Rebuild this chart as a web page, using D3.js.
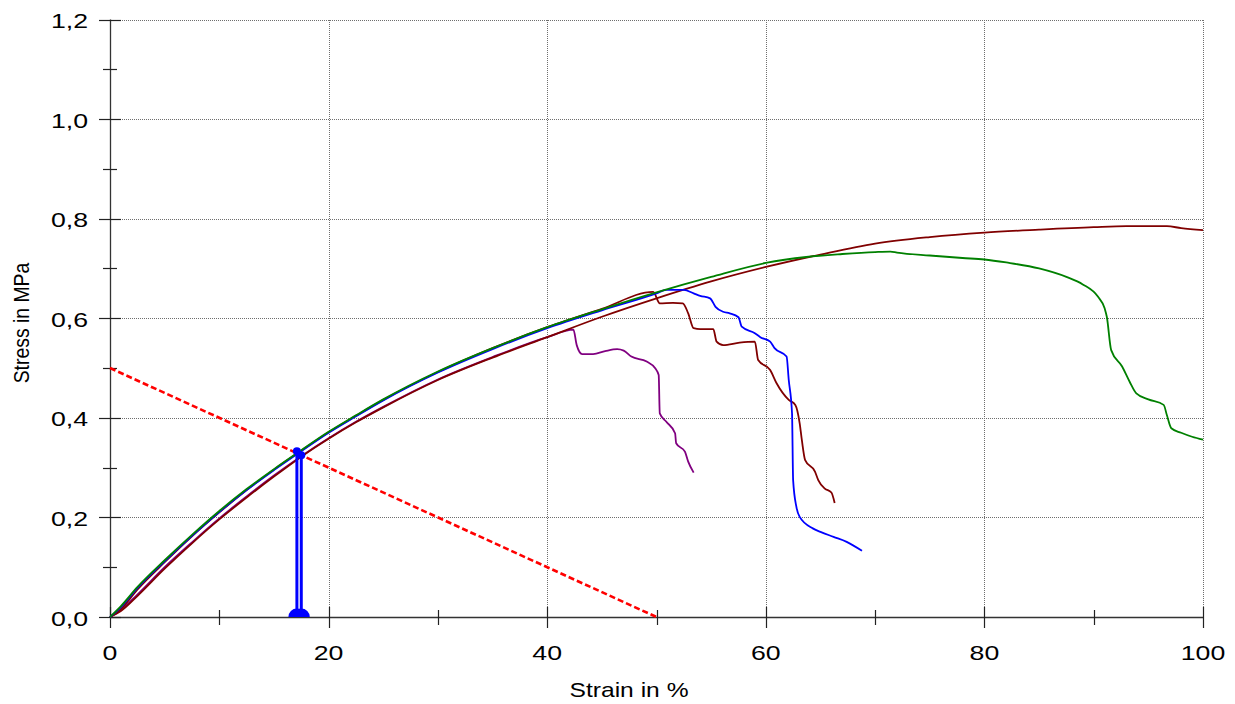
<!DOCTYPE html>
<html>
<head>
<meta charset="utf-8">
<script src="https://cdn.jsdelivr.net/npm/d3@7"></script>
<style>
  html, body { margin: 0; padding: 0; background: #fff; }
  svg { display: block; }
  text { font-family: "Liberation Sans", Arial, sans-serif; fill: #000; }
</style>
</head>
<body>
<svg id="chart" width="1235" height="704"></svg>
<script>
// ---------------- data ----------------
const xTickValues = [0, 20, 40, 60, 80, 100];
const xTickLabels = ["0", "20", "40", "60", "80", "100"];
const xMinorTicks = [10, 30, 50, 70, 90];
const yTickValues = [0, 0.2, 0.4, 0.6, 0.8, 1.0, 1.2];
const yTickLabels = ["0,0", "0,2", "0,4", "0,6", "0,8", "1,0", "1,2"];
const yMinorTicks = [0.1, 0.3, 0.5, 0.7, 0.9, 1.1];

const xTitle = "Strain in %";
const yTitle = "Stress in MPa";

// green specimen
const greenStrain = [0,1,2.5,5,7.5,10,12.5,15,17.5,20,22.5,25,30,35,40,45,50,55,60,63.7,67,70,71.4,72,75,78,80,82,85,87.5,89,90.4,91,91.2,91.6,92.6,93.3,93.9,95,96.4,96.7,97.1,98,99,100];
const greenStress = [0,0.022,0.06,0.114,0.165,0.213,0.257,0.297,0.335,0.372,0.405,0.437,0.493,0.54,0.582,0.618,0.652,0.683,0.711,0.723,0.729,0.733,0.734,0.732,0.726,0.721,0.718,0.712,0.70,0.683,0.668,0.643,0.62,0.603,0.536,0.503,0.472,0.449,0.437,0.426,0.405,0.379,0.37,0.362,0.356];

// long maroon specimen
const maroonStrain = [0,1,2.5,5,7.5,10,12.5,15,17.5,20,22.5,25,30,35,40,45,50,55,60,65,70,75,80,85,90,93,96.7,98,100];
const maroonStress = [0,0.012,0.042,0.097,0.148,0.196,0.24,0.282,0.322,0.358,0.391,0.421,0.476,0.521,0.562,0.603,0.64,0.674,0.703,0.728,0.75,0.763,0.772,0.778,0.783,0.785,0.785,0.781,0.777];

// purple specimen
const purpleStrain = [0,1,2.5,5,7.5,10,12.5,15,17.5,20,22.5,25,30,35,40,42.4,42.7,43.2,44.2,45.3,46.4,47,47.7,49.1,49.9,50.2,50.3,50.9,51.7,51.8,52.6,52.9,53.4];
const purpleStress = [0,0.014,0.045,0.1,0.15,0.198,0.242,0.284,0.323,0.359,0.392,0.422,0.477,0.522,0.562,0.577,0.546,0.528,0.528,0.534,0.538,0.535,0.523,0.513,0.499,0.486,0.409,0.392,0.369,0.349,0.332,0.312,0.29];

// blue specimen
const blueStrain = [0,1,2.5,5,7.5,10,12.5,15,17.5,20,22.5,25,30,35,40,45,50,50.9,52.5,53.4,54.0,54.9,55.4,56.1,56.7,57.5,57.8,59.0,59.5,60.4,60.8,61.9,62.1,62.4,62.5,62.8,63.1,64.3,65.0,66.2,67.4,68.8];
const blueStress = [0,0.02,0.058,0.112,0.163,0.211,0.255,0.295,0.333,0.37,0.403,0.435,0.491,0.538,0.58,0.616,0.65,0.657,0.657,0.65,0.645,0.64,0.623,0.613,0.61,0.602,0.583,0.57,0.562,0.553,0.54,0.523,0.476,0.409,0.275,0.221,0.201,0.178,0.171,0.161,0.151,0.133];

// short maroon specimen
const maroon2Strain = [0,1,2.5,5,7.5,10,12.5,15,17.5,20,22.5,25,30,35,40,45,49.7,50.3,51.5,52.4,52.9,53.4,54.0,55.2,55.5,56.1,57.6,59.0,59.3,60.4,61.0,62.1,62.7,63.1,63.3,63.6,64.5,64.8,65.4,66.0,66.3];
const maroon2Stress = [0,0.016,0.055,0.11,0.162,0.21,0.255,0.296,0.334,0.371,0.404,0.436,0.492,0.54,0.582,0.619,0.653,0.63,0.631,0.63,0.61,0.58,0.578,0.578,0.553,0.546,0.551,0.553,0.516,0.496,0.469,0.436,0.426,0.389,0.355,0.315,0.292,0.275,0.258,0.25,0.229];

// red dashed reference line
const refStrain = [0, 50];
const refStress = [0.5, 0];

// blue markers (strain, stress at top)
const markerStrain = [17.1, 17.5];
const markerStress = [0.333, 0.325];

// ---------------- drawing ----------------
const svg = d3.select("#chart");
const x = d3.scaleLinear().domain([0, 100]).range([110, 1203]);
const y = d3.scaleLinear().domain([0, 1.2]).range([617, 19.5]);
const HS = 1.27; // horizontal text stretch

// grid
const grid = svg.append("g");
grid.selectAll("line.h").data(yTickValues.filter(v => v > 0)).join("line")
  .attr("x1", x(0)).attr("x2", x(100))
  .attr("y1", d => Math.round(y(d)) + 0.5).attr("y2", d => Math.round(y(d)) + 0.5)
  .attr("stroke", "#6e6e6e").attr("stroke-width", 1).attr("stroke-dasharray", "1,1");
grid.selectAll("line.v").data(xTickValues.filter(v => v > 0)).join("line")
  .attr("y1", y(0)).attr("y2", y(1.2))
  .attr("x1", d => Math.round(x(d)) + 0.5).attr("x2", d => Math.round(x(d)) + 0.5)
  .attr("stroke", "#6e6e6e").attr("stroke-width", 1).attr("stroke-dasharray", "1,1");

// axes lines
svg.append("line").attr("x1", Math.round(x(0)) + 0.5).attr("x2", Math.round(x(0)) + 0.5)
  .attr("y1", y(0)).attr("y2", y(1.2)).attr("stroke", "#333").attr("stroke-width", 1.3);
svg.append("line").attr("x1", x(0)).attr("x2", x(100))
  .attr("y1", Math.round(y(0)) + 0.5).attr("y2", Math.round(y(0)) + 0.5).attr("stroke", "#333").attr("stroke-width", 1.3);

// ticks
const ticks = svg.append("g").attr("stroke", "#222").attr("stroke-width", 1.2);
yTickValues.forEach(v => {
  const yy = Math.round(y(v)) + 0.5;
  ticks.append("line").attr("x1", x(0) - 11).attr("x2", x(0) + 11).attr("y1", yy).attr("y2", yy);
});
yMinorTicks.forEach(v => {
  const yy = Math.round(y(v)) + 0.5;
  ticks.append("line").attr("x1", x(0) - 7).attr("x2", x(0) + 7).attr("y1", yy).attr("y2", yy);
});
xTickValues.forEach(v => {
  const xx = Math.round(x(v)) + 0.5;
  ticks.append("line").attr("y1", y(0) - 10).attr("y2", y(0) + 11).attr("x1", xx).attr("x2", xx);
});
xMinorTicks.forEach(v => {
  const xx = Math.round(x(v)) + 0.5;
  ticks.append("line").attr("y1", y(0) - 7).attr("y2", y(0) + 8).attr("x1", xx).attr("x2", xx);
});

// tick labels
yTickValues.forEach((v, i) => {
  svg.append("text")
    .attr("transform", `translate(88,${y(v) + 8.5}) scale(${HS},1)`)
    .attr("text-anchor", "end").attr("font-size", 21).text(yTickLabels[i]);
});
xTickValues.forEach((v, i) => {
  svg.append("text")
    .attr("transform", `translate(${x(v)},660) scale(${HS},1)`)
    .attr("text-anchor", "middle").attr("font-size", 21).text(xTickLabels[i]);
});

// titles
svg.append("text")
  .attr("transform", `translate(629,697) scale(${HS * 0.97},1)`)
  .attr("text-anchor", "middle").attr("font-size", 20).text(xTitle);
svg.append("text")
  .attr("transform", `translate(28.5,323) rotate(-90) scale(0.97,1.07)`)
  .attr("text-anchor", "middle").attr("font-size", 20).text(yTitle);

// curves
const line = d3.line().x(d => x(d[0])).y(d => y(d[1])).curve(d3.curveMonotoneX);
const straight = d3.line().x(d => x(d[0])).y(d => y(d[1]));
function series(sx, sy) { return sx.map((v, i) => [v, sy[i]]); }
const curves = [
  { data: series(purpleStrain, purpleStress), color: "#800080" },
  { data: series(maroonStrain, maroonStress), color: "#800000" },
  { data: series(maroon2Strain, maroon2Stress), color: "#800000" },
  { data: series(blueStrain, blueStress), color: "#0000ff" },
  { data: series(greenStrain, greenStress), color: "#008000" }
];
svg.append("g").selectAll("path").data(curves).join("path")
  .attr("d", d => line(d.data))
  .attr("fill", "none").attr("stroke", d => d.color).attr("stroke-width", 1.8)
  .attr("stroke-linejoin", "round");

// red dashed line
svg.append("path").attr("d", straight(series(refStrain, refStress)))
  .attr("fill", "none").attr("stroke", "#ff0000").attr("stroke-width", 2.6)
  .attr("stroke-dasharray", "6,3");

// markers
const mk = svg.append("g").attr("fill", "#0000ff");
markerStrain.forEach((s, i) => {
  const mx = x(s);
  mk.append("line").attr("x1", mx).attr("x2", mx).attr("y1", y(0)).attr("y2", y(markerStress[i]))
    .attr("stroke", "#0000ff").attr("stroke-width", 3);
  const arc = d3.arc().innerRadius(0).outerRadius(8.5).startAngle(-Math.PI / 2).endAngle(Math.PI / 2);
  mk.append("path").attr("d", arc()).attr("transform", `translate(${mx},${y(0)})`);
  mk.append("circle").attr("cx", mx).attr("cy", y(markerStress[i])).attr("r", 4);
});
</script>
</body>
</html>
